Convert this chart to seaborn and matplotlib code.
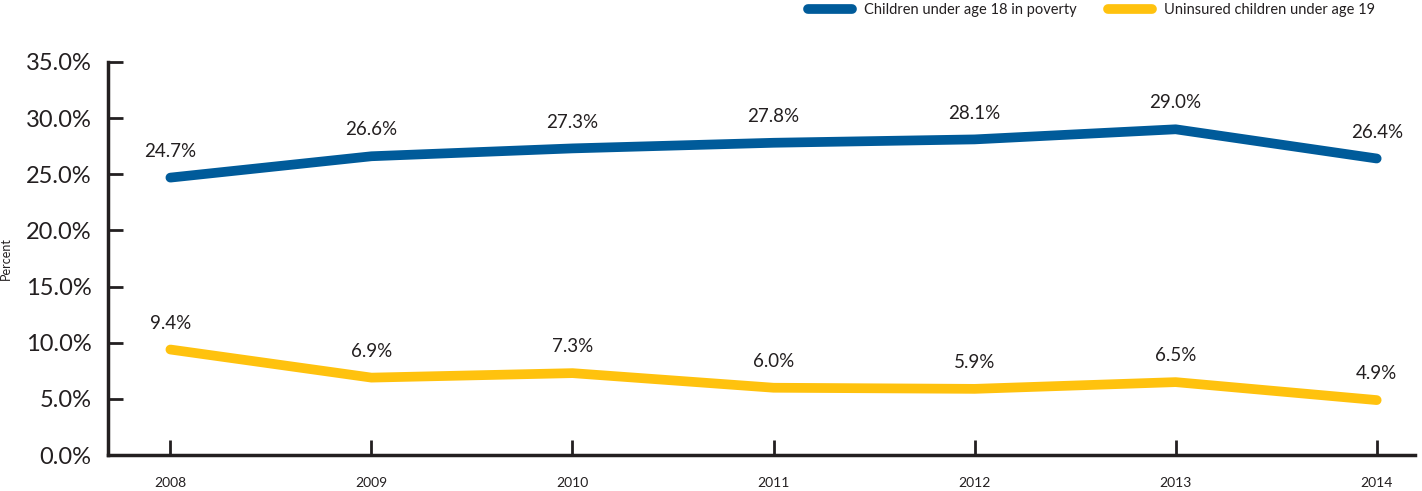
import pandas as pd
import matplotlib.pyplot as plt
import seaborn as sns

# =============================== #
# data
# =============================== #
years = [2008, 2009, 2010, 2011, 2012, 2013, 2014]
poverty = [24.7, 26.6, 27.3, 27.8, 28.1, 29.0, 26.4]
uninsured = [9.4, 6.9, 7.3, 6.0, 5.9, 6.5, 4.9]
series_names = ["Children under age 18 in poverty", "Uninsured children under age 19"]
colors = ["#005b9a", "#ffc20e"]
y_ticks = [0, 5, 10, 15, 20, 25, 30, 35]

df = pd.concat([
    pd.DataFrame({"year": years, "value": poverty, "series": series_names[0]}),
    pd.DataFrame({"year": years, "value": uninsured, "series": series_names[1]}),
])

# =============================== #
# figure
# =============================== #
sns.set_style("ticks")
plt.rcParams['font.family'] = ['Lato', 'DejaVu Sans']
text_col = "#231f20"

f, ax = plt.subplots(figsize=(14.22, 4.91), dpi=100)
plt.subplots_adjust(left=0.076, right=0.995, bottom=0.073, top=0.874)

sns.lineplot(data=df, x="year", y="value", hue="series", palette=colors,
             linewidth=7, solid_capstyle="round", ax=ax, legend=False)

# value labels
for vals in [poverty, uninsured]:
    for x, v in zip(years, vals):
        ax.annotate(f"{v:.1f}%", (x, v), xytext=(0, 19), textcoords="offset points",
                    ha="center", va="center", fontsize=13.5, color=text_col)

ax.set_xlim(2007.69, 2014.19)
ax.set_ylim(0, 35)
ax.set_yticks(y_ticks)
ax.set_yticklabels([f"{t:.1f}%" for t in y_ticks], fontsize=17, color=text_col)
ax.set_xticks(years)
ax.set_xticklabels([str(y) for y in years], fontsize=10, color=text_col)
ax.tick_params(axis="both", direction="in", length=11, width=2, color=text_col)
ax.tick_params(axis="x", pad=16)
ax.tick_params(axis="y", pad=12)
for s in ["left", "bottom"]:
    ax.spines[s].set_linewidth(2.5)
    ax.spines[s].set_color(text_col)
sns.despine(ax=ax)

ax.set_xlabel("")
ax.set_ylabel("Percent", fontsize=9, color=text_col, labelpad=10)

# legend
handles = [plt.Line2D([], [], color=c, linewidth=7, solid_capstyle="round", label=n)
           for c, n in zip(colors, series_names)]
f.legend(handles=handles, loc="upper right", bbox_to_anchor=(0.976, 1.02), ncol=2,
         frameon=False, fontsize=10.5, handlelength=3.0, columnspacing=2.2,
         handletextpad=0.8, labelcolor=text_col)

plt.savefig("out.png", dpi=100)
